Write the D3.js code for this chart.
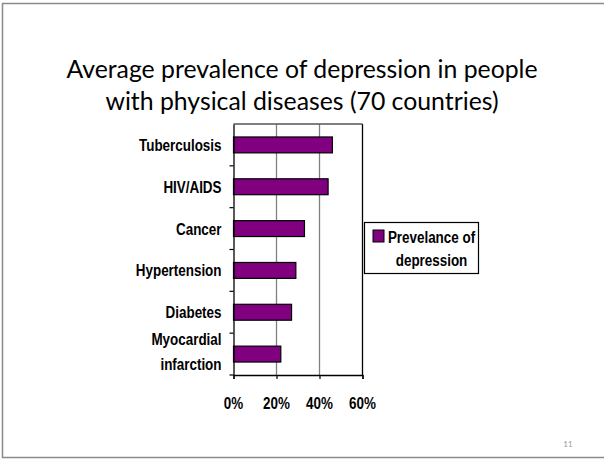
<!DOCTYPE html>
<html>
<head>
<meta charset="utf-8">
<script src="https://cdn.jsdelivr.net/npm/d3@7"></script>
<style>
  body { margin: 0; background: #fff; }
  svg { display: block; }
  .lbl { font-family: "Liberation Sans", Arial, sans-serif; font-weight: bold; font-size: 17px; fill: #000; }
</style>
</head>
<body>
<div id="chart"></div>
<script>
var titleLines = ["Average prevalence of depression in people", "with physical diseases (70 countries)"];
var categories = ["Tuberculosis", "HIV/AIDS", "Cancer", "Hypertension", "Diabetes", "Myocardial infarction"];
var values = [0.46, 0.44, 0.33, 0.29, 0.27, 0.22];
var xTicks = [0, 0.2, 0.4, 0.6];
var seriesName = ["Prevelance of", "depression"];
var pageNumber = "11";

var W = 604, H = 459;
var narrow = 0.79; // squeeze Liberation Sans into a narrow bold face

var svg = d3.select("#chart")
    .append("svg")
    .attr("width", W)
    .attr("height", H);

// slide frame
svg.append("rect")
    .attr("x", 2.5).attr("y", 3.5)
    .attr("width", 620).attr("height", 454)
    .attr("fill", "#fff")
    .attr("stroke", "#8a8a8a")
    .attr("stroke-width", 1.5);

svg.selectAll("text.title")
    .data(titleLines)
    .enter()
    .append("text")
    .attr("class", "title")
    .attr("x", 302)
    .attr("y", function (d, i) { return 78 + i * 32; })
    .attr("text-anchor", "middle")
    .style("font-family", "Lato, 'Open Sans', sans-serif")
    .style("font-size", "24.8px")
    .text(function (d) { return d; });

// narrow text helper: anchor at (px, py), squeezed horizontally
function label(g, px, py, txt, anchor) {
    return g.append("text")
        .attr("class", "lbl")
        .attr("text-anchor", anchor)
        .attr("transform", "translate(" + px + "," + py + ") scale(" + narrow + ",1)")
        .text(txt);
}

var plot = { left: 233.5, right: 362.5, top: 124, bottom: 375 };

var x = d3.scaleLinear()
    .domain([0, 0.6])
    .range([plot.left, plot.right]);

var y = d3.scaleBand()
    .domain(categories)
    .range([plot.top, plot.bottom])
    .paddingInner(0.62)
    .paddingOuter(0.31);

var yb = d3.scaleBand()
    .domain(categories)
    .range([plot.top, plot.bottom]);

// gridlines
svg.selectAll("line.grid")
    .data(xTicks.slice(1))
    .enter()
    .append("line")
    .attr("x1", function (d) { return x(d); })
    .attr("x2", function (d) { return x(d); })
    .attr("y1", plot.top)
    .attr("y2", plot.bottom)
    .attr("stroke", function (d, i) { return i == xTicks.length - 2 ? "#000" : "#808080"; })
    .attr("stroke-width", 1.3);

svg.append("line")
    .attr("x1", plot.left).attr("x2", plot.right)
    .attr("y1", plot.top).attr("y2", plot.top)
    .attr("stroke", "#555")
    .attr("stroke-width", 1.3);

svg.selectAll("rect.bar")
    .data(values)
    .enter()
    .append("rect")
    .attr("class", "bar")
    .attr("x", x(0))
    .attr("y", function (d, i) { return y(categories[i]); })
    .attr("width", function (d) { return x(d) - x(0); })
    .attr("height", y.bandwidth())
    .attr("fill", "#800080")
    .attr("stroke", "#000")
    .attr("stroke-width", 1.2);

// axes
var xAxis = svg.append("g")
    .attr("transform", "translate(0," + plot.bottom + ")")
    .call(d3.axisBottom(x).tickValues(xTicks).tickSize(4).tickFormat(""));
xAxis.select(".domain").attr("stroke", "#000").attr("stroke-width", 1.3);
xAxis.selectAll(".tick line").attr("stroke", "#000").attr("stroke-width", 1.2);
xTicks.forEach(function (t) {
    label(svg, x(t), 409, d3.format(".0%")(t), "middle");
});

var yAxis = svg.append("g")
    .attr("transform", "translate(" + plot.left + ",0)")
    .call(d3.axisLeft(yb).tickSize(0).tickFormat(""));
yAxis.select(".domain").attr("stroke", "#000").attr("stroke-width", 1.3);

// ticks at category boundaries
svg.selectAll("line.ytick")
    .data(categories.slice(1).concat([null]))
    .enter()
    .append("line")
    .attr("x1", plot.left - 4)
    .attr("x2", plot.left)
    .attr("y1", function (d) { return d ? yb(d) : plot.bottom; })
    .attr("y2", function (d) { return d ? yb(d) : plot.bottom; })
    .attr("stroke", "#000")
    .attr("stroke-width", 1.2);

// category labels
categories.forEach(function (c) {
    var cy = yb(c) + yb.bandwidth() / 2;
    var parts = c == "Myocardial infarction" ? ["Myocardial", "infarction"] : [c];
    parts.forEach(function (p, j) {
        label(svg, 221.5, parts.length == 1 ? cy + 6 : cy - 9 + j * 25, p, "end");
    });
});

// legend
var lg = svg.append("g");
lg.append("rect")
    .attr("x", 364.5).attr("y", 222.5)
    .attr("width", 114).attr("height", 51)
    .attr("fill", "#fff")
    .attr("stroke", "#000")
    .attr("stroke-width", 1.2);
lg.append("rect")
    .attr("x", 373).attr("y", 230)
    .attr("width", 11).attr("height", 12)
    .attr("fill", "#800080")
    .attr("stroke", "#000")
    .attr("stroke-width", 1);
seriesName.forEach(function (s, i) {
    label(lg, 431.5, 243 + i * 22.5, s, "middle");
});

svg.append("text")
    .attr("x", 568)
    .attr("y", 447)
    .attr("text-anchor", "middle")
    .style("font-family", "Lato, sans-serif")
    .style("font-size", "8px")
    .attr("fill", "#999")
    .text(pageNumber);
</script>
</body>
</html>
